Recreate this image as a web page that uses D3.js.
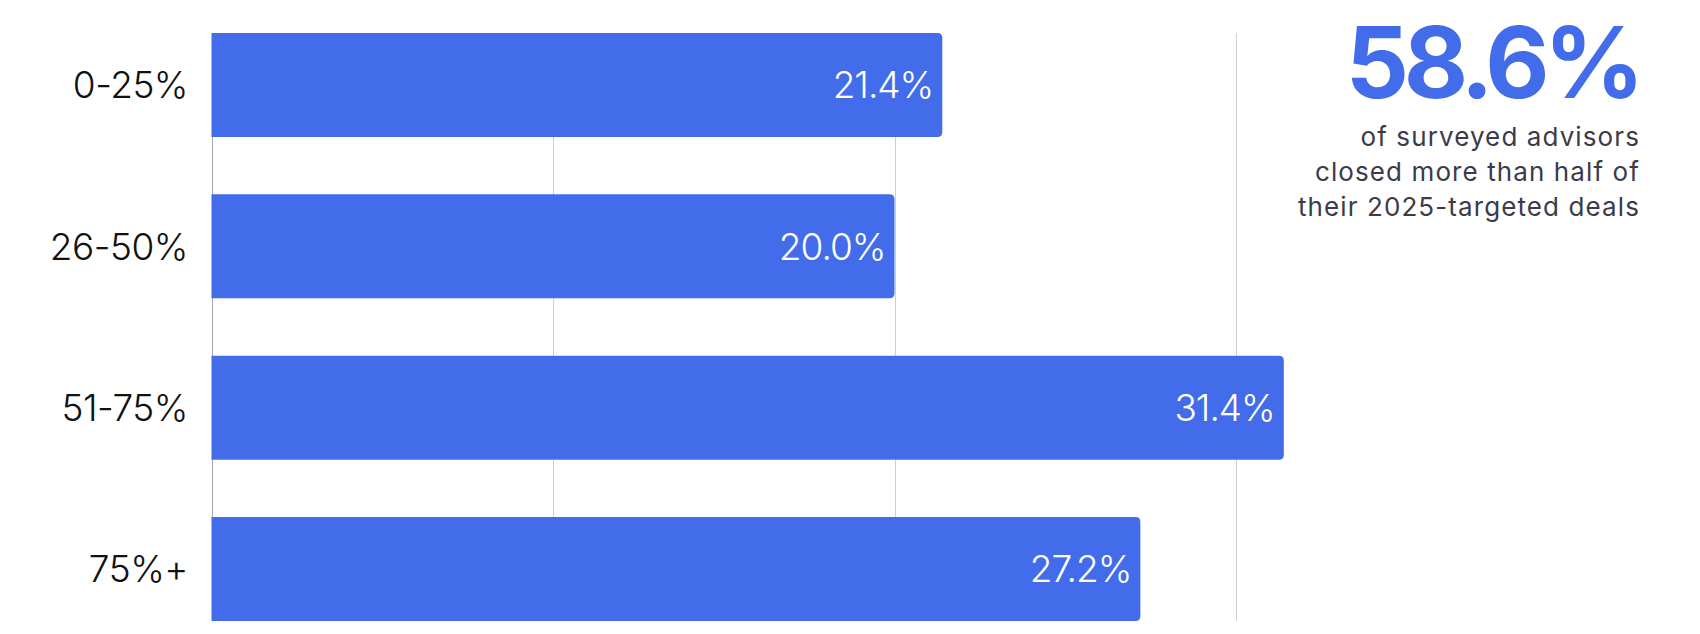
<!DOCTYPE html>
<meta charset="utf-8">
<style>
body { margin: 0; background: #fff; }
svg { display: block; }
.cat { font: 300 37px Inter, sans-serif; fill: #111; text-anchor: end; letter-spacing: -0.5px; }
.val { font: 300 37px Inter, sans-serif; fill: #fff; text-anchor: end; letter-spacing: -1px; }
.big { font: 700 99px Inter, sans-serif; fill: #436ceb; text-anchor: end; letter-spacing: -5.5px; }
.note { font: 400 26px Inter, sans-serif; fill: #3b3b4a; text-anchor: end; letter-spacing: 1.1px; }
</style>
<body>
<svg width="1700" height="634"></svg>
<script src="https://cdn.jsdelivr.net/npm/d3@7"></script>
<script>
var categories = ["0-25%", "26-50%", "51-75%", "75%+"];
var values = [21.4, 20.0, 31.4, 27.2];
var gridTicks = [0, 10, 20, 30];
var headline = "58.6%";
var noteLines = ["of surveyed advisors", "closed more than half of", "their 2025-targeted deals"];

var svg = d3.select("svg");
var blue = "#436ceb";

var x = d3.scaleLinear().domain([0, 40]).range([211.5, 1577.5]);
var y = d3.scaleBand().domain(categories).range([33, 621]).paddingInner(0.355).paddingOuter(0);

// grid lines (behind bars)
svg.append("g").selectAll("line")
  .data(gridTicks)
  .enter().append("line")
    .attr("x1", function(d) { return Math.round(x(d)) + 0.5; })
    .attr("x2", function(d) { return Math.round(x(d)) + 0.5; })
    .attr("y1", y.range()[0])
    .attr("y2", y.range()[1])
    .attr("stroke", function(d) { return d === 0 ? "#a8a8a8" : "#cfcfcf"; })
    .attr("stroke-width", 1);

// bars with rounded right end
var r = 5;
svg.append("g").selectAll("path")
  .data(values)
  .enter().append("path")
    .attr("fill", blue)
    .attr("d", function(d, i) {
      var x0 = x(0), x1 = x(d), y0 = y(categories[i]), h = y.bandwidth();
      return "M" + x0 + "," + y0 +
        "H" + (x1 - r) +
        "Q" + x1 + "," + y0 + " " + x1 + "," + (y0 + r) +
        "V" + (y0 + h - r) +
        "Q" + x1 + "," + (y0 + h) + " " + (x1 - r) + "," + (y0 + h) +
        "H" + x0 + "Z";
    });

// value labels
svg.append("g").selectAll("text")
  .data(values)
  .enter().append("text")
    .attr("class", "val")
    .attr("x", function(d) { return x(d) - 9; })
    .attr("y", function(d, i) { return y(categories[i]) + y.bandwidth() / 2; })
    .attr("dy", "0.36em")
    .text(function(d) { return d.toFixed(1) + "%"; });

// category labels
svg.append("g").selectAll("text")
  .data(categories)
  .enter().append("text")
    .attr("class", "cat")
    .attr("x", 188)
    .attr("y", function(d) { return y(d) + y.bandwidth() / 2; })
    .attr("dy", "0.36em")
    .text(function(d) { return d; });

// callout
svg.append("text")
  .attr("class", "big")
  .attr("x", 1639)
  .attr("y", 98)
  .text(headline);

svg.append("g").selectAll("text")
  .data(noteLines)
  .enter().append("text")
    .attr("class", "note")
    .attr("x", 1640)
    .attr("y", function(d, i) { return 145.5 + i * 35.3; })
    .text(function(d) { return d; });
</script>
</body>
